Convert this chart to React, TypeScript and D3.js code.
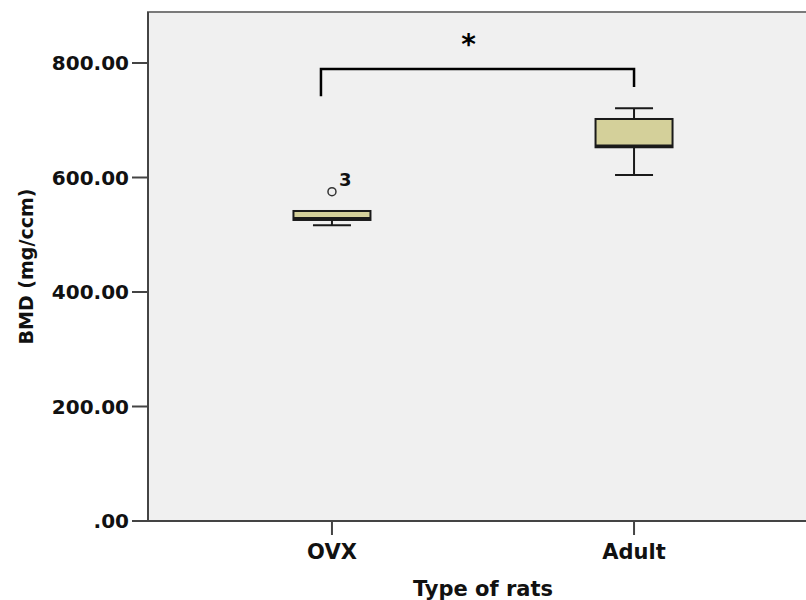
import React from "react";
import * as d3 from "d3";

// groups and five-number summaries (mg/ccm)
const groups = ["OVX", "Adult"];
const lowWhisker = [516.5, 604.4];
const q1 = [525.8, 652.8];
const median = [528.6, 655.0];
const q3 = [541.5, 702.2];
const highWhisker = [541.5, 720.9];
const outliers = [{ group: "OVX", value: 575.2, label: "3" }];

const yTicks = [0, 200, 400, 600, 800];
const yTickLabels = [".00", "200.00", "400.00", "600.00", "800.00"];

// significance bracket
const bracketTop = 789.5;
const bracketLeftFoot = 742;
const bracketRightFoot = 758;
const bracketMark = "*";

export default function App() {
  const width = 806;
  const height = 600;
  const margin = { top: 12, right: -12, bottom: 79, left: 148 };
  const font = "'DejaVu Sans', Verdana, sans-serif";

  const x = d3
    .scalePoint()
    .domain(groups)
    .range([margin.left, width - margin.right])
    .padding(0.609);

  const y = d3
    .scaleLinear()
    .domain([0, 800])
    .range([height - margin.bottom, 63]);

  const boxW = 77;
  const capW = 38;
  const plotBottom = height - margin.bottom;

  const boxes = groups.map((g, i) => ({
    g,
    lo: lowWhisker[i],
    q1: q1[i],
    med: median[i],
    q3: q3[i],
    hi: highWhisker[i],
  }));

  const bx0 = (x("OVX") as number) - 11;
  const bx1 = x("Adult") as number;

  return (
    <svg
      width={width}
      height={height}
      style={{ position: "absolute", left: 0, top: 0, background: "#fff" }}
    >
      <rect
        x={margin.left}
        y={margin.top}
        width={width - margin.left + 20}
        height={plotBottom - margin.top}
        fill="#f0f0f0"
        stroke="#7a7a7a"
        strokeWidth={2}
      />
      {/* axes */}
      <line x1={margin.left} x2={margin.left} y1={margin.top} y2={plotBottom} stroke="#444" strokeWidth={2} />
      <line x1={margin.left} x2={width} y1={plotBottom} y2={plotBottom} stroke="#444" strokeWidth={2} />
      {yTicks.map((t, i) => (
        <g key={t}>
          <line x1={margin.left - 16} x2={margin.left} y1={y(t)} y2={y(t)} stroke="#444" strokeWidth={2} />
          <text
            x={margin.left - 19}
            y={y(t)}
            dy="0.36em"
            textAnchor="end"
            fontFamily={font}
            fontWeight="bold"
            fontSize={20}
            fill="#111"
          >
            {yTickLabels[i]}
          </text>
        </g>
      ))}
      {groups.map((g) => (
        <g key={g}>
          <line x1={x(g)} x2={x(g)} y1={plotBottom} y2={plotBottom + 14} stroke="#444" strokeWidth={2} />
          <text
            x={x(g)}
            y={plotBottom + 30}
            dy="0.36em"
            textAnchor="middle"
            fontFamily={font}
            fontWeight="bold"
            fontSize={21}
            fill="#111"
          >
            {g}
          </text>
        </g>
      ))}
      <text
        x={(margin.left + width - margin.right) / 2}
        y={588}
        dy="0.36em"
        textAnchor="middle"
        fontFamily={font}
        fontWeight="bold"
        fontSize={21}
        fill="#111"
      >
        Type of rats
      </text>
      <text
        transform={`translate(26,${(margin.top + plotBottom) / 2}) rotate(-90)`}
        dy="0.36em"
        textAnchor="middle"
        fontFamily={font}
        fontWeight="bold"
        fontSize={19}
        fill="#111"
      >
        BMD (mg/ccm)
      </text>

      {/* boxes */}
      {boxes.map((b) => {
        const cx = x(b.g) as number;
        return (
          <g key={b.g} stroke="#1a1a1a" strokeWidth={2}>
            <line x1={cx} x2={cx} y1={y(b.lo)} y2={y(b.q1)} />
            <line x1={cx} x2={cx} y1={y(b.q3)} y2={y(b.hi)} />
            <line x1={cx - capW / 2} x2={cx + capW / 2} y1={y(b.lo)} y2={y(b.lo)} />
            <line x1={cx - capW / 2} x2={cx + capW / 2} y1={y(b.hi)} y2={y(b.hi)} />
            <rect
              x={cx - boxW / 2}
              y={y(b.q3)}
              width={boxW}
              height={y(b.q1) - y(b.q3)}
              fill="#d4d09a"
            />
            <line
              x1={cx - boxW / 2}
              x2={cx + boxW / 2}
              y1={y(b.med)}
              y2={y(b.med)}
              strokeWidth={3}
            />
          </g>
        );
      })}

      {outliers.map((o) => (
        <g key={o.label}>
          <circle
            cx={x(o.group)}
            cy={y(o.value)}
            r={4}
            fill="#f0f0f0"
            stroke="#333"
            strokeWidth={1.5}
          />
          <text
            x={(x(o.group) as number) + 7}
            y={y(o.value) - 12}
            dy="0.36em"
            fontFamily={font}
            fontWeight="bold"
            fontSize={18}
            fill="#111"
          >
            {o.label}
          </text>
        </g>
      ))}

      {/* significance bracket */}
      <path
        d={`M${bx0},${y(bracketLeftFoot)}V${y(bracketTop)}H${bx1}V${y(bracketRightFoot)}`}
        fill="none"
        stroke="#000"
        strokeWidth={2.5}
      />
      <text
        x={(bx0 + bx1) / 2 - 9}
        y={y(bracketTop) - 15}
        textAnchor="middle"
        fontFamily={font}
        fontWeight="bold"
        fontSize={28}
        fill="#000"
      >
        {bracketMark}
      </text>
    </svg>
  );
}
